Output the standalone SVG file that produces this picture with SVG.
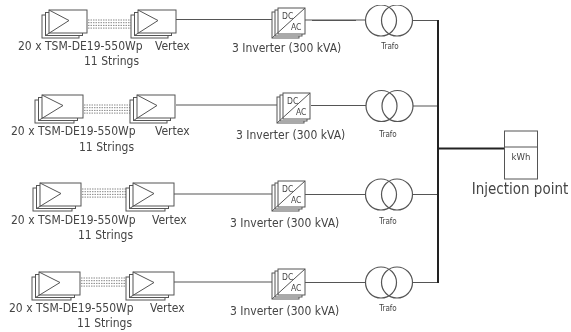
<svg xmlns="http://www.w3.org/2000/svg" width="571" height="332" viewBox="0 0 571 332">
<style>
.s{fill:#fff;stroke:#555;stroke-width:1}
.n{fill:none;stroke:#555;stroke-width:1}
.w{fill:none;stroke:#555;stroke-width:1.2}
.k{fill:none;stroke:#222;stroke-width:2}
.d{fill:none;stroke:#888;stroke-width:1;stroke-dasharray:1.5 1}
text{font-family:"DejaVu Sans",sans-serif;font-stretch:condensed;fill:#444}
.l{font-size:12px}
.t{font-size:8px}
.m{font-size:8.5px}
.i{font-size:15px}
</style>
<defs>
<filter id="soft" x="0" y="0" width="100%" height="100%"><feGaussianBlur stdDeviation="0.35"/></filter>
<g id="pv38"><rect class="s" x="-7" y="5" width="37" height="23"/><rect class="s" x="-3.5" y="2.5" width="37" height="23"/><rect class="s" width="38" height="23"/><path class="n" d="M0 0L20 10.5L-3.5 25.5"/></g>
<g id="pv41"><rect class="s" x="-7" y="5" width="39" height="23"/><rect class="s" x="-3.5" y="2.5" width="39" height="23"/><rect class="s" width="41" height="23"/><path class="n" d="M0 0L21 10.5L-3.5 25.5"/></g>
<g id="inv"><rect class="s" x="-6" y="4" width="27" height="26"/><rect class="s" x="-3" y="2" width="27" height="26"/><rect class="s" width="27" height="26"/><path class="n" d="M27 0L-6 30"/><text class="m" x="4" y="11">DC</text><text class="m" x="13" y="22">AC</text></g>
<g id="tr"><circle class="w" cx="0" cy="0" r="15.5"/><circle class="w" cx="16" cy="0" r="15.5"/></g>
<g id="dots"><path class="d" d="M0 0H50M0 2.7H50M0 5.4H50M0 8.1H50"/></g>
</defs>
<rect width="571" height="332" fill="#fff"/>
<g filter="url(#soft)">
<g id="connectors">
<use href="#dots" x="88" y="20"/><use href="#dots" x="84" y="105"/><use href="#dots" x="82" y="189"/><use href="#dots" x="81" y="278"/>
<path class="n" d="M176 19.500H278M305 20H365M413 20.500H438"/><path class="w" d="M312 20.500H356"/>
<path class="n" d="M176 105H283M311 105.500H366M413 106H438"/>
<path class="n" d="M174 194H278M305 194.500H365M413 194.500H438"/><path class="w" d="M312 194.500H356"/>
<path class="n" d="M173 282H278M305 282.500H365M413 282.500H438"/><path class="w" d="M312 282.500H358"/>
<path class="k" d="M438 20V283M438 148.500H504"/>
</g>
<g id="pv1"><use href="#pv38" x="49" y="10"/><text class="l" x="18" y="50">20 x TSM-DE19-550Wp</text><text class="l" x="84" y="65">11 Strings</text></g>
<g id="vertex1"><use href="#pv38" x="138" y="10"/><text class="l" x="155" y="50">Vertex</text></g>
<g id="inverter1"><use href="#inv" x="278" y="8"/><text class="l" x="232" y="52">3 Inverter (300 kVA)</text></g>
<g id="trafo1"><use href="#tr" x="381" y="20.500"/><text class="t" x="390" y="49" text-anchor="middle">Trafo</text></g>
<g id="pv2"><use href="#pv41" x="42" y="95"/><text class="l" x="11" y="135">20 x TSM-DE19-550Wp</text><text class="l" x="79" y="151">11 Strings</text></g>
<g id="vertex2"><use href="#pv38" x="137" y="95"/><text class="l" x="155" y="135">Vertex</text></g>
<g id="inverter2"><use href="#inv" x="283" y="93"/><text class="l" x="236" y="139">3 Inverter (300 kVA)</text></g>
<g id="trafo2"><use href="#tr" x="381.500" y="106"/><text class="t" x="388" y="137" text-anchor="middle">Trafo</text></g>
<g id="pv3"><use href="#pv41" x="40" y="183"/><text class="l" x="11" y="224">20 x TSM-DE19-550Wp</text><text class="l" x="78" y="239">11 Strings</text></g>
<g id="vertex3"><use href="#pv41" x="133" y="183"/><text class="l" x="152" y="224">Vertex</text></g>
<g id="inverter3"><use href="#inv" x="278" y="181"/><text class="l" x="230" y="227">3 Inverter (300 kVA)</text></g>
<g id="trafo3"><use href="#tr" x="381" y="194.500"/><text class="t" x="388" y="224" text-anchor="middle">Trafo</text></g>
<g id="pv4"><use href="#pv41" x="39" y="272"/><text class="l" x="9" y="312">20 x TSM-DE19-550Wp</text><text class="l" x="77" y="327">11 Strings</text></g>
<g id="vertex4"><use href="#pv41" x="133" y="272"/><text class="l" x="150" y="312">Vertex</text></g>
<g id="inverter4"><use href="#inv" x="278" y="269"/><text class="l" x="230" y="315">3 Inverter (300 kVA)</text></g>
<g id="trafo4"><use href="#tr" x="381" y="282.500"/><text class="t" x="388" y="311" text-anchor="middle">Trafo</text></g>
<g id="meter"><rect class="s" x="504.500" y="131" width="33" height="48"/><path class="n" d="M504.500 147H537.500"/><text class="m" x="521" y="160" text-anchor="middle" style="font-size:9.5px">kWh</text><text class="i" x="520" y="194" text-anchor="middle">Injection point</text></g>
</g>
</svg>
